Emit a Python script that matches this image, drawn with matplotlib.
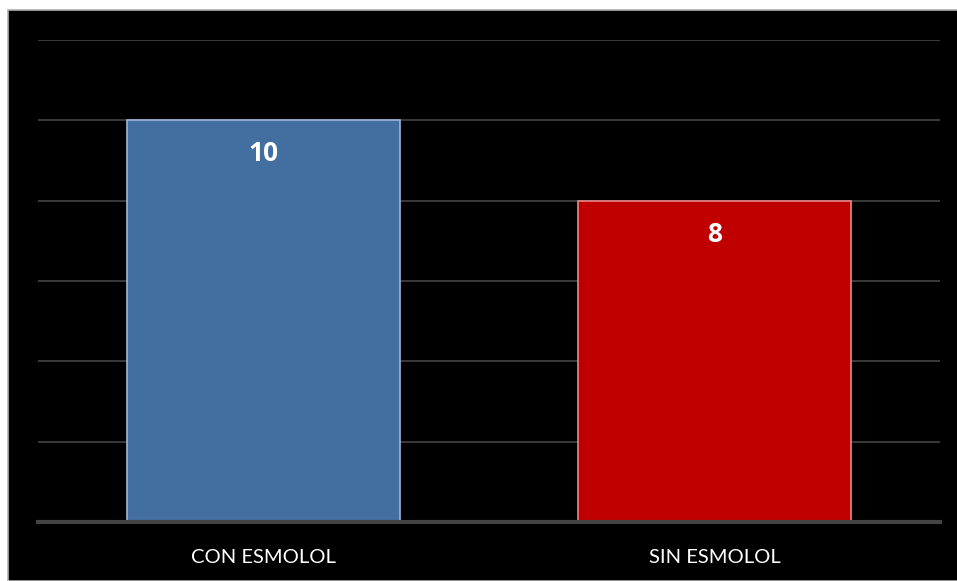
import matplotlib
matplotlib.use("Agg")
import matplotlib.pyplot as plt
from matplotlib.patches import Rectangle

categories = ["CON ESMOLOL", "SIN ESMOLOL"]
values = [10, 8]
colors = ["#426ea0", "#c00000"]
edges = ["#9bb7dc", "#e88a8a"]

plt.rcParams['font.family'] = ['Lato', 'DejaVu Sans']

fig = plt.figure(figsize=(9.57, 5.81), dpi=100)
fig.patch.set_facecolor("white")
# black panel with thin gray frame
fig.patches.append(Rectangle((8 / 957, 0), 1, 1 - 10 / 581, transform=fig.transFigure,
                             facecolor="black", edgecolor="#b0b0b0", linewidth=1.2, zorder=-10))

ax = fig.add_axes([38 / 957, (581 - 522) / 581, (940 - 38) / 957, (522 - 40) / 581])
ax.set_facecolor("black")
ax.patch.set_alpha(0)

x = range(len(categories))
bars = ax.bar(x, values, width=0.605, color=colors, edgecolor=edges, linewidth=1.2, zorder=2)

for b, v in zip(bars, values):
    ax.text(b.get_x() + b.get_width() / 2, v - 0.83, str(v), ha="center", va="center",
            color="white", fontsize=19, fontweight="bold", family=["Open Sans", "DejaVu Sans"], zorder=3)

ax.set_xlim(-0.5, 1.5)
ax.set_ylim(0, 12)
ax.set_yticks(range(0, 13, 2))
ax.yaxis.grid(True, color="#444444", linewidth=1.2, zorder=1)
ax.set_axisbelow(True)
ax.tick_params(axis="y", left=False, labelleft=False)
ax.tick_params(axis="x", bottom=False, colors="white", labelsize=14.5, pad=16)
ax.set_xticks(list(x))
ax.set_xticklabels(categories)
for s in ["top", "right", "left"]:
    ax.spines[s].set_visible(False)
ax.spines["bottom"].set_color("#444444")
ax.spines["bottom"].set_linewidth(3)
ax.spines["bottom"].set_zorder(4)

fig.savefig("out.png", dpi=100, facecolor=fig.get_facecolor())
